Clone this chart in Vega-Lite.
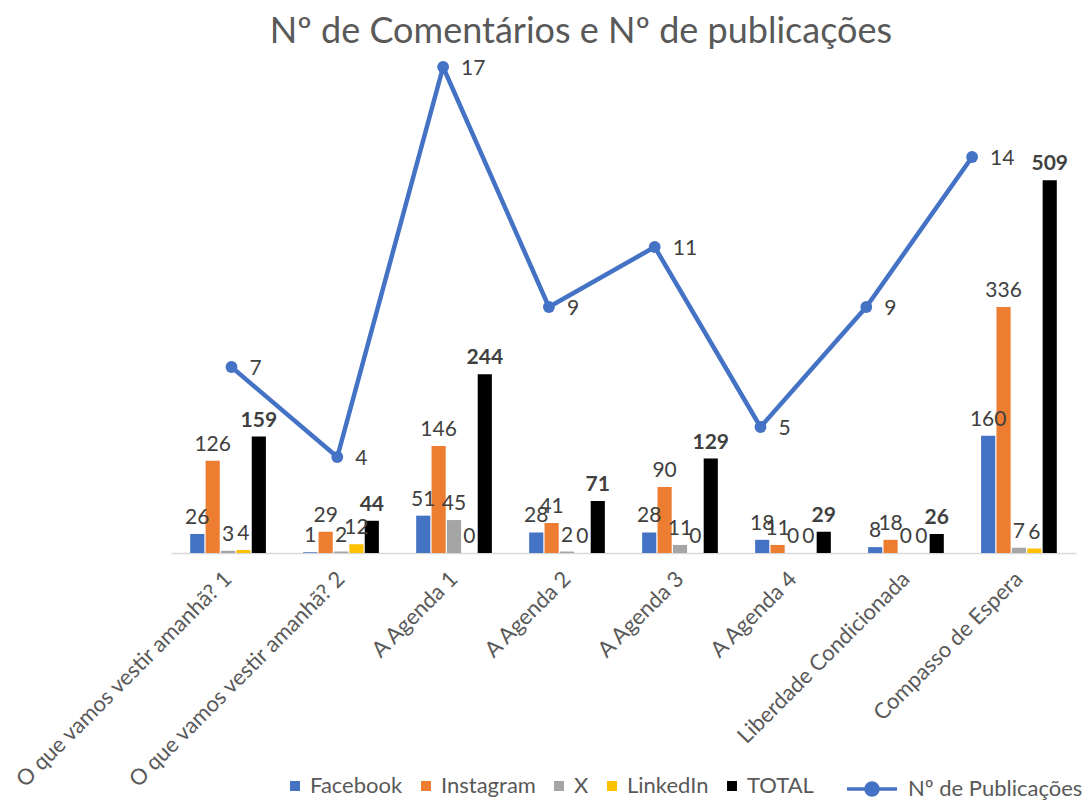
{
  "$schema": "https://vega.github.io/schema/vega-lite/v6.json",
  "autosize": {"type": "none"},
  "width": 905,
  "height": 498,
  "padding": {"left": 171, "top": 55, "right": 16, "bottom": 248},
  "background": "#ffffff",
  "config": {
    "view": {"stroke": null},
    "font": "Lato",
    "text": {"font": "Lato"}
  },
  "title": {
    "text": "Nº de Comentários e Nº de publicações",
    "fontSize": 36,
    "font": "Lato",
    "fontWeight": "normal",
    "color": "#595959",
    "anchor": "middle",
    "frame": "bounds",
    "dx": 34,
    "offset": 4
  },
  "datasets": {
    "bars": [
      {"episode": "O que vamos vestir amanhã? 1", "series": "Facebook", "value": 26},
      {"episode": "O que vamos vestir amanhã? 1", "series": "Instagram", "value": 126},
      {"episode": "O que vamos vestir amanhã? 1", "series": "X", "value": 3},
      {"episode": "O que vamos vestir amanhã? 1", "series": "LinkedIn", "value": 4},
      {"episode": "O que vamos vestir amanhã? 1", "series": "TOTAL", "value": 159},
      {"episode": "O que vamos vestir amanhã? 2", "series": "Facebook", "value": 1},
      {"episode": "O que vamos vestir amanhã? 2", "series": "Instagram", "value": 29},
      {"episode": "O que vamos vestir amanhã? 2", "series": "X", "value": 2},
      {"episode": "O que vamos vestir amanhã? 2", "series": "LinkedIn", "value": 12},
      {"episode": "O que vamos vestir amanhã? 2", "series": "TOTAL", "value": 44},
      {"episode": "A Agenda 1", "series": "Facebook", "value": 51},
      {"episode": "A Agenda 1", "series": "Instagram", "value": 146},
      {"episode": "A Agenda 1", "series": "X", "value": 45},
      {"episode": "A Agenda 1", "series": "LinkedIn", "value": 0},
      {"episode": "A Agenda 1", "series": "TOTAL", "value": 244},
      {"episode": "A Agenda 2", "series": "Facebook", "value": 28},
      {"episode": "A Agenda 2", "series": "Instagram", "value": 41},
      {"episode": "A Agenda 2", "series": "X", "value": 2},
      {"episode": "A Agenda 2", "series": "LinkedIn", "value": 0},
      {"episode": "A Agenda 2", "series": "TOTAL", "value": 71},
      {"episode": "A Agenda 3", "series": "Facebook", "value": 28},
      {"episode": "A Agenda 3", "series": "Instagram", "value": 90},
      {"episode": "A Agenda 3", "series": "X", "value": 11},
      {"episode": "A Agenda 3", "series": "LinkedIn", "value": 0},
      {"episode": "A Agenda 3", "series": "TOTAL", "value": 129},
      {"episode": "A Agenda 4", "series": "Facebook", "value": 18},
      {"episode": "A Agenda 4", "series": "Instagram", "value": 11},
      {"episode": "A Agenda 4", "series": "X", "value": 0},
      {"episode": "A Agenda 4", "series": "LinkedIn", "value": 0},
      {"episode": "A Agenda 4", "series": "TOTAL", "value": 29},
      {"episode": "Liberdade Condicionada", "series": "Facebook", "value": 8},
      {"episode": "Liberdade Condicionada", "series": "Instagram", "value": 18},
      {"episode": "Liberdade Condicionada", "series": "X", "value": 0},
      {"episode": "Liberdade Condicionada", "series": "LinkedIn", "value": 0},
      {"episode": "Liberdade Condicionada", "series": "TOTAL", "value": 26},
      {"episode": "Compasso de Espera", "series": "Facebook", "value": 160},
      {"episode": "Compasso de Espera", "series": "Instagram", "value": 336},
      {"episode": "Compasso de Espera", "series": "X", "value": 7},
      {"episode": "Compasso de Espera", "series": "LinkedIn", "value": 6},
      {"episode": "Compasso de Espera", "series": "TOTAL", "value": 509}
    ],
    "pubs": [
      {"episode": "O que vamos vestir amanhã? 1", "pubs": 7},
      {"episode": "O que vamos vestir amanhã? 2", "pubs": 4},
      {"episode": "A Agenda 1", "pubs": 17},
      {"episode": "A Agenda 2", "pubs": 9},
      {"episode": "A Agenda 3", "pubs": 11},
      {"episode": "A Agenda 4", "pubs": 5},
      {"episode": "Liberdade Condicionada", "pubs": 9},
      {"episode": "Compasso de Espera", "pubs": 14}
    ]
  },
  "layer": [
    {
      "data": {"name": "bars"},
      "encoding": {
        "x": {
          "field": "episode",
          "type": "nominal",
          "sort": null,
          "scale": {"type": "band", "paddingInner": 0.33, "paddingOuter": 0.17},
          "axis": {
            "title": null,
            "labelAngle": -45,
            "labelAlign": "right",
            "labelBaseline": "middle",
            "labelFontSize": 22,
            "labelFont": "Lato",
            "labelColor": "#595959",
            "labelPadding": 22,
            "labelLimit": 400,
            "ticks": false,
            "grid": false,
            "domainColor": "#D9D9D9",
            "domainWidth": 1.5
          }
        },
        "xOffset": {
          "field": "series",
          "type": "nominal",
          "sort": ["Facebook", "Instagram", "X", "LinkedIn", "TOTAL"],
          "scale": {"paddingInner": 0.08, "paddingOuter": 0}
        },
        "y": {
          "field": "value",
          "type": "quantitative",
          "scale": {"domain": [0, 680], "nice": false, "zero": true},
          "axis": null
        }
      },
      "layer": [
        {
          "mark": {"type": "bar"},
          "encoding": {
            "color": {
              "field": "series",
              "type": "nominal",
              "sort": ["Facebook", "Instagram", "X", "LinkedIn", "TOTAL"],
              "scale": {
                "domain": ["Facebook", "Instagram", "X", "LinkedIn", "TOTAL"],
                "range": ["#4472C4", "#ED7D31", "#A5A5A5", "#FFC000", "#000000"]
              },
              "legend": {
                "orient": "none",
                "legendX": 113,
                "legendY": 720,
                "direction": "horizontal",
                "title": null,
                "symbolType": "square",
                "symbolSize": 100,
                "symbolStrokeWidth": 0,
                "labelFontSize": 22,
                "labelFont": "Lato",
                "labelColor": "#595959",
                "labelOffset": 4,
                "columnPadding": 12
              }
            }
          }
        },
        {
          "transform": [{"filter": "datum.series !== 'TOTAL'"}],
          "mark": {"type": "text", "baseline": "bottom", "dy": -6, "fontSize": 21, "font": "Lato", "color": "#404040"},
          "encoding": {"text": {"field": "value", "type": "quantitative"}}
        },
        {
          "transform": [{"filter": "datum.series === 'TOTAL'"}],
          "mark": {"type": "text", "baseline": "bottom", "dy": -6, "fontSize": 21, "font": "Lato", "fontWeight": "bold", "color": "#404040"},
          "encoding": {"text": {"field": "value", "type": "quantitative"}}
        }
      ]
    },
    {
      "data": {"name": "pubs"},
      "encoding": {
        "x": {
          "field": "episode",
          "type": "nominal",
          "sort": null,
          "scale": {"type": "point", "padding": 0.777, "align": 0.368},
          "axis": null
        },
        "y": {
          "field": "pubs",
          "type": "quantitative",
          "scale": {"domain": [0.8, 17.4], "nice": false, "zero": false},
          "axis": null
        }
      },
      "layer": [
        {
          "mark": {"type": "line", "strokeWidth": 4.5, "strokeJoin": "round"},
          "encoding": {
            "stroke": {
              "datum": "Nº de Publicações",
              "type": "nominal",
              "scale": {"range": ["#4472C4"]},
              "legend": {
                "orient": "none",
                "legendX": 674,
                "legendY": 707,
                "title": null,
                "symbolType": "M-1,0H1M0.24,0A0.24,0.24 0 1 1 -0.24,0A0.24,0.24 0 1 1 0.24,0Z",
                "symbolSize": 2500,
                "symbolStrokeWidth": 3.5,
                "symbolFillColor": "#4472C4",
                "labelFontSize": 22,
                "labelFont": "Lato",
                "labelColor": "#595959",
                "labelOffset": 9,
                "labelLimit": 400,
                "encode": {
                  "symbols": {"update": {"fill": {"value": "#4472C4"}, "stroke": {"value": "#4472C4"}, "strokeWidth": {"value": 3.5}}}
                }
              }
            }
          }
        },
        {
          "mark": {"type": "point", "filled": true, "size": 140, "color": "#4472C4", "opacity": 1}
        },
        {
          "mark": {"type": "text", "align": "left", "dx": 18, "dy": 2, "fontSize": 21, "font": "Lato", "color": "#404040"},
          "encoding": {"text": {"field": "pubs", "type": "quantitative"}}
        }
      ]
    }
  ],
  "resolve": {"scale": {"x": "independent", "y": "independent", "color": "independent"}}
}
